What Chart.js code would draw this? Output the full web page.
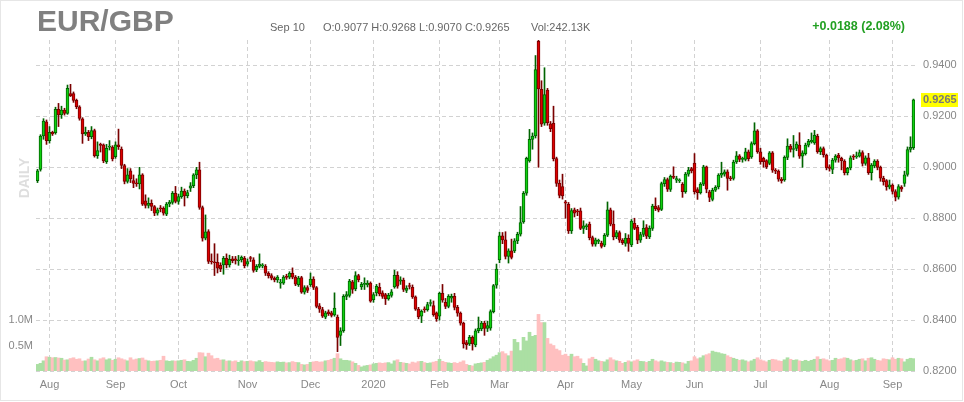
<!DOCTYPE html>
<html>
<head>
<meta charset="utf-8">
<script src="https://cdn.jsdelivr.net/npm/chart.js@4.4.0/dist/chart.umd.min.js"></script>
<style>
  html, body { margin: 0; padding: 0; background: #fff; }
  #wrap { position: relative; width: 964px; height: 402px; overflow: hidden; font-family: "Liberation Sans", Arial, sans-serif; }
  #wrap::after { content: ''; position: absolute; left: 0; top: 0; right: 1px; bottom: 1px; border: 1px solid #e6e6e6; pointer-events: none; }
  canvas { position: absolute; left: 0; top: 0; }
  .sym { position: absolute; left: 37px; top: 6px; font-size: 30px; line-height: 30px; font-weight: bold; color: #808080; }
  .info { position: absolute; top: 22px; font-size: 11px; line-height: 11px; color: #666; white-space: nowrap; }
  .chg { position: absolute; right: 59px; top: 20px; font-size: 12.5px; line-height: 13px; font-weight: bold; color: #22a022; white-space: nowrap; }
  .daily { position: absolute; left: 24px; top: 178px; transform: translate(-50%, -50%) rotate(-90deg); font-size: 14px; font-weight: bold; color: #dedede; }
</style>
</head>
<body>
<div id="wrap">
  <canvas id="chart" width="964" height="402"></canvas>
  <div class="sym">EUR/GBP</div>
  <div class="info" style="left:270px">Sep 10</div>
  <div class="info" style="left:323px">O:0.9077 H:0.9268 L:0.9070 C:0.9265</div>
  <div class="info" style="left:531px">Vol:242.13K</div>
  <div class="chg">+0.0188 (2.08%)</div>
  <div class="daily">DAILY</div>
</div>
<script>
// ===== DATA =====
const monthNames = ['Jul', 'Aug', 'Sep', 'Oct', 'Nov', 'Dec', '2020', 'Feb', 'Mar', 'Apr', 'May', 'Jun', 'Jul', 'Aug', 'Sep'];
const monthDays  = [4, 22, 21, 23, 21, 21, 22, 20, 22, 22, 21, 22, 23, 21, 8];

const priceTicks = [0.82, 0.84, 0.86, 0.88, 0.90, 0.92, 0.94];
const volTicks = [500000, 1000000];

const open = [
  0.8948, 0.8992, 0.9123, 0.9179,
  0.9105, 0.9137, 0.9136, 0.9228, 0.9206, 0.9225, 0.9212, 0.9290, 0.9290, 0.9263, 0.9238, 0.9190, 0.9131, 0.9137, 0.9120, 0.9144, 0.9046, 0.9088, 0.9088, 0.9022, 0.9079, 0.9079,
  0.9042, 0.9088, 0.9072, 0.9007, 0.8945, 0.8986, 0.8948, 0.8937, 0.8935, 0.8970, 0.8868, 0.8850, 0.8859, 0.8846, 0.8820, 0.8839, 0.8839, 0.8816, 0.8856, 0.8862, 0.8898,
  0.8866, 0.8885, 0.8907, 0.8889, 0.8918, 0.8928, 0.8970, 0.8990, 0.8842, 0.8722, 0.8748, 0.8630, 0.8628, 0.8627, 0.8615, 0.8617, 0.8643, 0.8617, 0.8641, 0.8641, 0.8633, 0.8637, 0.8643,
  0.8620, 0.8643, 0.8637, 0.8597, 0.8611, 0.8613, 0.8611, 0.8584, 0.8575, 0.8565, 0.8558, 0.8545, 0.8545, 0.8569, 0.8569, 0.8584, 0.8569, 0.8539, 0.8567, 0.8510, 0.8528,
  0.8539, 0.8561, 0.8528, 0.8456, 0.8441, 0.8411, 0.8432, 0.8428, 0.8420, 0.8412, 0.8340, 0.8358, 0.8493, 0.8497, 0.8550, 0.8522, 0.8575, 0.8530, 0.8540, 0.8538, 0.8545,
  0.8480, 0.8507, 0.8529, 0.8507, 0.8500, 0.8483, 0.8497, 0.8530, 0.8576, 0.8553, 0.8557, 0.8516, 0.8533, 0.8529, 0.8491, 0.8443, 0.8415, 0.8441, 0.8441, 0.8465, 0.8457, 0.8428,
  0.8415, 0.8505, 0.8470, 0.8454, 0.8486, 0.8493, 0.8450, 0.8427, 0.8388, 0.8312, 0.8306, 0.8332, 0.8302, 0.8358, 0.8365, 0.8388, 0.8367, 0.8368, 0.8433, 0.8537,
  0.8636, 0.8731, 0.8715, 0.8650, 0.8672, 0.8672, 0.8711, 0.8737, 0.8786, 0.8898, 0.9025, 0.9110, 0.9123, 0.9495, 0.9306, 0.9173, 0.9303, 0.9171, 0.9173, 0.9034, 0.8937, 0.8924,
  0.8864, 0.8855, 0.8750, 0.8833, 0.8829, 0.8829, 0.8760, 0.8767, 0.8777, 0.8724, 0.8698, 0.8709, 0.8702, 0.8694, 0.8733, 0.8833, 0.8777, 0.8727, 0.8744, 0.8714, 0.8701, 0.8721,
  0.8695, 0.8780, 0.8764, 0.8714, 0.8736, 0.8763, 0.8727, 0.8760, 0.8848, 0.8842, 0.8835, 0.8936, 0.8952, 0.8913, 0.8965, 0.8949, 0.8947, 0.8933, 0.8904, 0.8973, 0.8995,
  0.9017, 0.8913, 0.8900, 0.8934, 0.9002, 0.8904, 0.8874, 0.8910, 0.8923, 0.8969, 0.8973, 0.8982, 0.8956, 0.8956, 0.9021, 0.9045, 0.9031, 0.9031, 0.9061, 0.9041, 0.9093, 0.9143,
  0.9061, 0.9035, 0.9026, 0.9015, 0.9057, 0.8989, 0.8985, 0.8953, 0.8950, 0.9039, 0.9083, 0.9070, 0.9074, 0.9087, 0.9044, 0.9054, 0.9087, 0.9100, 0.9096, 0.9122, 0.9061, 0.9074, 0.9048,
  0.9002, 0.8992, 0.9028, 0.9048, 0.9035, 0.9024, 0.8979, 0.8998, 0.9041, 0.9041, 0.9044, 0.9058, 0.9015, 0.9037, 0.8979, 0.9005, 0.9024, 0.9000, 0.8957, 0.8948, 0.8922,
  0.8930, 0.8905, 0.8883, 0.8922, 0.8937, 0.8972, 0.9070, 0.9077
];

const high = [
  0.8992, 0.9128, 0.9191, 0.9186,
  0.9160, 0.9142, 0.9236, 0.9251, 0.9240, 0.9232, 0.9323, 0.9326, 0.9296, 0.9268, 0.9242, 0.9195, 0.9158, 0.9145, 0.9160, 0.9150, 0.9100, 0.9095, 0.9092, 0.9090, 0.9105, 0.9085,
  0.9100, 0.9150, 0.9080, 0.9012, 0.8995, 0.8995, 0.8970, 0.8955, 0.9000, 0.8975, 0.8892, 0.8880, 0.8872, 0.8850, 0.8840, 0.8850, 0.8845, 0.8862, 0.8870, 0.8905, 0.8925,
  0.8895, 0.8922, 0.8915, 0.8910, 0.8940, 0.8975, 0.9000, 0.9020, 0.8848, 0.8813, 0.8755, 0.8660, 0.8700, 0.8660, 0.8625, 0.8650, 0.8660, 0.8655, 0.8650, 0.8650, 0.8654, 0.8652, 0.8650,
  0.8640, 0.8650, 0.8645, 0.8618, 0.8660, 0.8622, 0.8618, 0.8590, 0.8582, 0.8570, 0.8575, 0.8560, 0.8575, 0.8580, 0.8590, 0.8605, 0.8575, 0.8572, 0.8572, 0.8535, 0.8535,
  0.8585, 0.8570, 0.8532, 0.8465, 0.8450, 0.8435, 0.8440, 0.8435, 0.8507, 0.8420, 0.8370, 0.8500, 0.8512, 0.8560, 0.8556, 0.8590, 0.8580, 0.8548, 0.8566, 0.8555, 0.8550,
  0.8508, 0.8540, 0.8545, 0.8515, 0.8505, 0.8505, 0.8520, 0.8596, 0.8590, 0.8570, 0.8565, 0.8535, 0.8545, 0.8538, 0.8495, 0.8450, 0.8440, 0.8452, 0.8470, 0.8480, 0.8475, 0.8432,
  0.8510, 0.8540, 0.8485, 0.8500, 0.8502, 0.8505, 0.8458, 0.8432, 0.8392, 0.8320, 0.8340, 0.8338, 0.8365, 0.8412, 0.8395, 0.8395, 0.8395, 0.8440, 0.8540, 0.8620,
  0.8745, 0.8744, 0.8747, 0.8680, 0.8718, 0.8720, 0.8745, 0.8846, 0.8905, 0.9040, 0.9149, 0.9135, 0.9439, 0.9499, 0.9340, 0.9391, 0.9310, 0.9180, 0.9240, 0.9040, 0.8950, 0.8973,
  0.8870, 0.8862, 0.8838, 0.8840, 0.8835, 0.8840, 0.8790, 0.8778, 0.8785, 0.8730, 0.8722, 0.8718, 0.8710, 0.8740, 0.8864, 0.8840, 0.8829, 0.8752, 0.8750, 0.8720, 0.8740, 0.8735,
  0.8795, 0.8800, 0.8772, 0.8745, 0.8790, 0.8775, 0.8770, 0.8855, 0.8880, 0.8850, 0.8942, 0.8960, 0.8958, 0.8970, 0.9002, 0.8965, 0.8955, 0.8940, 0.8980, 0.9000, 0.9000,
  0.9054, 0.8920, 0.8940, 0.9008, 0.9005, 0.8910, 0.8918, 0.8928, 0.8975, 0.9020, 0.8990, 0.8990, 0.8965, 0.9028, 0.9062, 0.9050, 0.9040, 0.9075, 0.9068, 0.9100, 0.9175, 0.9148,
  0.9075, 0.9040, 0.9030, 0.9062, 0.9062, 0.8995, 0.8990, 0.8960, 0.9045, 0.9112, 0.9090, 0.9125, 0.9100, 0.9136, 0.9065, 0.9095, 0.9110, 0.9135, 0.9145, 0.9130, 0.9080, 0.9080, 0.9052,
  0.9010, 0.9035, 0.9050, 0.9055, 0.9040, 0.9030, 0.9000, 0.9045, 0.9050, 0.9060, 0.9068, 0.9065, 0.9045, 0.9055, 0.9015, 0.9030, 0.9030, 0.9005, 0.8965, 0.8952, 0.8950,
  0.8935, 0.8912, 0.8932, 0.8928, 0.8985, 0.9080, 0.9120, 0.9268
];

const low = [
  0.8940, 0.8985, 0.9110, 0.9090,
  0.9095, 0.9125, 0.9130, 0.9160, 0.9192, 0.9205, 0.9208, 0.9278, 0.9255, 0.9230, 0.9185, 0.9094, 0.9125, 0.9105, 0.9112, 0.9040, 0.9035, 0.9060, 0.9018, 0.9015, 0.9068, 0.9025,
  0.9035, 0.9070, 0.8995, 0.8935, 0.8938, 0.8940, 0.8920, 0.8925, 0.8915, 0.8850, 0.8840, 0.8840, 0.8830, 0.8810, 0.8812, 0.8825, 0.8812, 0.8810, 0.8845, 0.8855, 0.8860,
  0.8855, 0.8878, 0.8848, 0.8880, 0.8905, 0.8920, 0.8955, 0.8835, 0.8710, 0.8715, 0.8622, 0.8620, 0.8575, 0.8585, 0.8590, 0.8580, 0.8605, 0.8608, 0.8625, 0.8620, 0.8615, 0.8628, 0.8605,
  0.8612, 0.8630, 0.8588, 0.8590, 0.8605, 0.8605, 0.8575, 0.8565, 0.8558, 0.8550, 0.8548, 0.8525, 0.8540, 0.8560, 0.8562, 0.8562, 0.8535, 0.8532, 0.8505, 0.8502, 0.8508,
  0.8532, 0.8520, 0.8448, 0.8430, 0.8410, 0.8405, 0.8418, 0.8412, 0.8415, 0.8276, 0.8300, 0.8352, 0.8480, 0.8490, 0.8505, 0.8515, 0.8550, 0.8520, 0.8520, 0.8530, 0.8470,
  0.8470, 0.8495, 0.8495, 0.8485, 0.8461, 0.8478, 0.8490, 0.8525, 0.8525, 0.8540, 0.8512, 0.8508, 0.8522, 0.8485, 0.8438, 0.8405, 0.8390, 0.8430, 0.8435, 0.8455, 0.8415, 0.8395,
  0.8400, 0.8470, 0.8445, 0.8448, 0.8470, 0.8440, 0.8415, 0.8380, 0.8290, 0.8285, 0.8300, 0.8282, 0.8295, 0.8350, 0.8358, 0.8340, 0.8355, 0.8360, 0.8428, 0.8525,
  0.8625, 0.8700, 0.8640, 0.8624, 0.8640, 0.8665, 0.8700, 0.8730, 0.8780, 0.8890, 0.9020, 0.9071, 0.9115, 0.9000, 0.9160, 0.9165, 0.9165, 0.9140, 0.9025, 0.8925, 0.8880, 0.8875,
  0.8800, 0.8740, 0.8740, 0.8805, 0.8810, 0.8755, 0.8740, 0.8755, 0.8715, 0.8690, 0.8690, 0.8700, 0.8683, 0.8688, 0.8728, 0.8770, 0.8715, 0.8720, 0.8705, 0.8697, 0.8690, 0.8670,
  0.8688, 0.8755, 0.8700, 0.8705, 0.8728, 0.8720, 0.8720, 0.8752, 0.8830, 0.8825, 0.8830, 0.8925, 0.8905, 0.8905, 0.8955, 0.8940, 0.8940, 0.8882, 0.8898, 0.8965, 0.8978,
  0.8895, 0.8874, 0.8895, 0.8928, 0.8900, 0.8865, 0.8868, 0.8905, 0.8915, 0.8960, 0.8965, 0.8910, 0.8948, 0.8950, 0.9015, 0.9022, 0.9020, 0.9025, 0.9025, 0.9035, 0.9088, 0.9055,
  0.9012, 0.9000, 0.8995, 0.9010, 0.8980, 0.8975, 0.8945, 0.8938, 0.8945, 0.9030, 0.9060, 0.9040, 0.9065, 0.9035, 0.9000, 0.9048, 0.9080, 0.9095, 0.9090, 0.9055, 0.9050, 0.9040, 0.8990,
  0.8985, 0.8975, 0.9020, 0.9020, 0.8990, 0.8970, 0.8970, 0.8990, 0.9030, 0.9035, 0.9040, 0.9005, 0.9008, 0.8972, 0.8950, 0.8998, 0.8990, 0.8945, 0.8930, 0.8910, 0.8915,
  0.8895, 0.8868, 0.8875, 0.8905, 0.8925, 0.8965, 0.9060, 0.9070
];

const close = [
  0.8986, 0.9123, 0.9182, 0.9105,
  0.9137, 0.9131, 0.9228, 0.9206, 0.9225, 0.9212, 0.9310, 0.9280, 0.9263, 0.9238, 0.9192, 0.9131, 0.9137, 0.9120, 0.9144, 0.9046, 0.9066, 0.9086, 0.9025, 0.9075, 0.9081, 0.9033,
  0.9088, 0.9081, 0.9007, 0.8945, 0.8970, 0.8954, 0.8937, 0.8935, 0.8970, 0.8855, 0.8850, 0.8859, 0.8846, 0.8820, 0.8833, 0.8837, 0.8820, 0.8856, 0.8863, 0.8898, 0.8866,
  0.8885, 0.8907, 0.8888, 0.8901, 0.8927, 0.8970, 0.8990, 0.8842, 0.8722, 0.8747, 0.8630, 0.8628, 0.8625, 0.8604, 0.8601, 0.8643, 0.8617, 0.8639, 0.8633, 0.8634, 0.8635, 0.8646, 0.8614,
  0.8630, 0.8642, 0.8595, 0.8611, 0.8620, 0.8613, 0.8584, 0.8574, 0.8565, 0.8558, 0.8569, 0.8546, 0.8569, 0.8568, 0.8584, 0.8569, 0.8541, 0.8565, 0.8510, 0.8528, 0.8516,
  0.8561, 0.8528, 0.8454, 0.8443, 0.8415, 0.8428, 0.8425, 0.8418, 0.8447, 0.8332, 0.8358, 0.8493, 0.8500, 0.8553, 0.8520, 0.8575, 0.8559, 0.8540, 0.8540, 0.8545, 0.8474,
  0.8500, 0.8533, 0.8503, 0.8493, 0.8483, 0.8497, 0.8511, 0.8576, 0.8533, 0.8558, 0.8520, 0.8526, 0.8532, 0.8491, 0.8443, 0.8412, 0.8434, 0.8440, 0.8461, 0.8467, 0.8421, 0.8405,
  0.8505, 0.8478, 0.8454, 0.8493, 0.8493, 0.8450, 0.8427, 0.8388, 0.8306, 0.8302, 0.8332, 0.8306, 0.8358, 0.8369, 0.8388, 0.8367, 0.8378, 0.8433, 0.8535, 0.8600,
  0.8731, 0.8715, 0.8650, 0.8672, 0.8646, 0.8711, 0.8737, 0.8783, 0.8898, 0.9035, 0.9110, 0.9123, 0.9384, 0.9308, 0.9169, 0.9286, 0.9175, 0.9152, 0.9034, 0.8937, 0.8890, 0.8888,
  0.8859, 0.8750, 0.8830, 0.8820, 0.8825, 0.8760, 0.8770, 0.8767, 0.8724, 0.8698, 0.8715, 0.8709, 0.8689, 0.8733, 0.8833, 0.8777, 0.8727, 0.8744, 0.8714, 0.8704, 0.8722, 0.8701,
  0.8789, 0.8760, 0.8714, 0.8736, 0.8760, 0.8730, 0.8760, 0.8848, 0.8838, 0.8832, 0.8936, 0.8952, 0.8914, 0.8965, 0.8960, 0.8956, 0.8948, 0.8904, 0.8973, 0.8989, 0.8986,
  0.8904, 0.8900, 0.8934, 0.9002, 0.8914, 0.8882, 0.8910, 0.8921, 0.8969, 0.8976, 0.8982, 0.8956, 0.8955, 0.9021, 0.9045, 0.9031, 0.9031, 0.9061, 0.9034, 0.9093, 0.9143, 0.9061,
  0.9022, 0.9022, 0.9002, 0.9057, 0.8989, 0.8985, 0.8953, 0.8948, 0.9039, 0.9083, 0.9070, 0.9070, 0.9091, 0.9044, 0.9057, 0.9087, 0.9102, 0.9106, 0.9126, 0.9061, 0.9074, 0.9050, 0.8998,
  0.8996, 0.9028, 0.9044, 0.9037, 0.9026, 0.8979, 0.8996, 0.9037, 0.9040, 0.9044, 0.9058, 0.9015, 0.9037, 0.8979, 0.9009, 0.9024, 0.9000, 0.8957, 0.8944, 0.8924, 0.8931,
  0.8905, 0.8883, 0.8924, 0.8914, 0.8970, 0.9070, 0.9078, 0.9265
];

// volume in thousands
const volume = [
  130, 150, 200, 280,
  270, 260, 265, 255, 250, 215, 220, 245, 260, 230, 240, 195, 200, 235, 270, 220, 200, 240, 260, 220, 240, 210,
  230, 260, 240, 220, 200, 260, 220, 235, 245, 255, 215, 200, 190, 195, 200, 210, 290, 200, 190, 200, 195,
  200, 210, 220, 190, 185, 210, 250, 360, 355, 280, 350, 300, 240, 250, 215, 220, 195, 200, 185, 200, 170, 200, 185,
  190, 200, 185, 180, 205, 170, 185, 175, 170, 165, 180, 170, 175, 160, 165, 185, 170, 165, 130, 120, 130,
  170, 180, 190, 175, 180, 200, 210, 230, 250, 340, 240, 210, 210, 200, 180, 150, 110, 80, 100, 110, 120,
  140, 150, 160, 150, 160, 165, 140, 200, 220, 170, 160, 150, 140, 175, 160, 185, 190, 165, 150, 160, 175, 190,
  230, 190, 170, 160, 150, 165, 150, 175, 200, 130, 110, 100, 140, 150, 160, 170, 210, 240, 280, 310,
  360, 380, 340, 300, 390, 620, 560, 400, 660, 590, 760, 680, 700, 1110, 950, 950, 640, 530, 500, 430, 400, 310,
  330, 290, 330, 280, 290, 240, 150, 100, 240, 270, 230, 200, 190, 180, 220, 260, 220, 200, 190, 150, 170, 200,
  180, 200, 220, 190, 185, 170, 190, 230, 200, 180, 200, 180, 170, 165, 150, 175, 170, 160, 140, 190, 200,
  280, 240, 260, 300, 320, 340, 390, 370, 360, 340, 330, 300, 270, 250, 230, 210, 220, 200, 180, 200, 230, 260,
  220, 200, 180, 210, 230, 220, 200, 190, 220, 260, 230, 210, 220, 200, 190, 210, 190, 210, 230, 280, 230, 240, 220,
  200, 210, 250, 230, 240, 260, 250, 220, 200, 210, 230, 240, 200, 250, 260, 230, 210, 200, 240, 230, 220,
  260, 230, 250, 240, 180, 230, 250, 242.13
];

// ===== CATEGORIES =====
const days = [];
const monthStarts = [];
monthDays.forEach((n, m) => {
  if (m > 0) monthStarts.push(days.length);
  for (let k = 0; k < n; k++) days.push(monthNames[m] + ' ' + (k + 1));
});
const tickLabels = monthNames.slice(1);

const up = close.map((c, i) => c >= open[i]);
const bodies = open.map((o, i) => [Math.min(o, close[i]), Math.max(o, close[i])]);
const wicks = low.map((l, i) => [l, high[i]]);

// ===== LAST PRICE TAG =====
const lastTag = {
  id: 'lastTag',
  afterDraw(chart) {
    const c = chart.ctx;
    const v = close[close.length - 1];
    const y = chart.scales.y.getPixelForValue(v);
    const x = chart.chartArea.right + 6;
    c.save();
    c.fillStyle = '#ffff00';
    c.fillRect(x, Math.round(y) - 7, 37, 14);
    c.fillStyle = '#777';
    c.font = 'bold 11px "Liberation Sans", Arial, sans-serif';
    c.textBaseline = 'middle';
    c.fillText(v.toFixed(4), x + 2, y + 0.5);
    c.restore();
  }
};

// ===== CHART =====
Chart.defaults.font.family = '"Liberation Sans", Arial, sans-serif';
const ctx = document.getElementById('chart').getContext('2d');
new Chart(ctx, {
  type: 'bar',
  data: {
    labels: days,
    datasets: [
      {
        data: bodies,
        yAxisID: 'y',
        barThickness: 3,
        borderWidth: 1,
        borderSkipped: false,
        minBarLength: 1,
        backgroundColor: up.map(u => u ? '#10d010' : '#dd0000'),
        borderColor: up.map(u => u ? '#006400' : '#7a0000')
      },
      {
        data: wicks,
        yAxisID: 'y',
        barThickness: 1,
        minBarLength: 1,
        backgroundColor: up.map(u => u ? '#006400' : '#7a0000')
      },
      {
        data: volume.map(v => v * 1000),
        yAxisID: 'v',
        barPercentage: 1,
        categoryPercentage: 1,
        backgroundColor: up.map(u => u ? '#abdfa3' : '#ffc0c0')
      }
    ]
  },
  options: {
    responsive: false,
    animation: false,
    datasets: { bar: { grouped: false } },
    layout: { padding: { top: 40, left: 0, right: 0, bottom: 0 } },
    plugins: { legend: { display: false }, tooltip: { enabled: false } },
    scales: {
      x: {
        offset: true,
        grid: { offset: false, color: '#d2d2d2', drawTicks: false },
        border: { display: false, dash: [4, 3] },
        afterBuildTicks: s => { s.ticks = monthStarts.map(v => ({ value: v })); },
        afterFit: s => { s.height = 31; },
        ticks: {
          autoSkip: false, maxRotation: 0, padding: 7,
          color: '#888', font: { size: 11 },
          callback: (v, i) => tickLabels[i]
        }
      },
      y: {
        position: 'right',
        min: 0.82,
        max: 0.95,
        grid: { color: '#d2d2d2', drawTicks: false },
        border: { display: false, dash: [4, 3] },
        afterBuildTicks: s => { s.ticks = priceTicks.map(v => ({ value: v })); },
        afterFit: s => { s.width = 49; },
        ticks: { padding: 8, color: '#888', font: { size: 11 }, callback: v => v.toFixed(4) }
      },
      v: {
        position: 'left',
        min: 0,
        max: 6490000,
        grid: { display: false, drawTicks: false },
        border: { display: false },
        afterBuildTicks: s => { s.ticks = volTicks.map(v => ({ value: v })); },
        afterFit: s => { s.width = 36; },
        ticks: { padding: 3, color: '#888', font: { size: 11 }, callback: v => (v / 1e6).toFixed(1) + 'M' }
      }
    }
  },
  plugins: [lastTag]
});
</script>
</body>
</html>
